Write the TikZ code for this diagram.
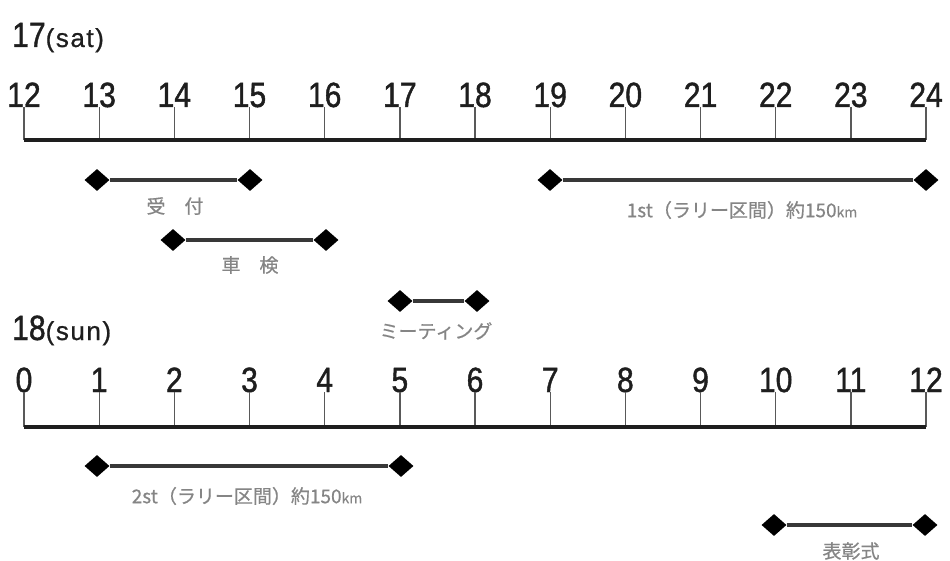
\documentclass[tikz,border=0pt]{standalone}
\usepackage{fontspec}
\setmainfont{Liberation Sans}
\newfontfamily\numfont[FakeStretch=0.86,FakeBold=1.2]{Liberation Sans}
\newfontfamily\dayfont[FakeBold=0.8,LetterSpace=6]{Liberation Sans}
\newfontfamily\jp[FakeBold=0.6]{Noto Sans CJK JP}
\usetikzlibrary{shapes.geometric}
\definecolor{labgray}{HTML}{858585}
\definecolor{ink}{HTML}{1E1E1E}
\begin{document}
\begin{tikzpicture}[x=1pt,y=-1pt,
  num/.style={font=\numfont\fontsize{35}{35}\selectfont, text=ink, inner sep=0pt, anchor=base},
  daylab/.style={inner sep=0pt, anchor=base west, text=ink},
  tickline/.style={line width=1.3pt, draw=black!65},
  axisline/.style={line width=4pt, draw=ink},
  dia/.style={diamond, fill=black, inner sep=0pt, minimum width=25pt, minimum height=22pt},
  spanline/.style={line width=3.3pt, draw=black!78},
  lab/.style={font=\jp\fontsize{19}{19}\selectfont, text=labgray, inner sep=0pt}]
\useasboundingbox (0,0) rectangle (950,561);
% day labels
\node[daylab] (sat) at (12,47) {{\numfont\fontsize{35}{35}\selectfont 17}{\dayfont\fontsize{26}{26}\selectfont (sat)}};
\node[daylab] (sun) at (12,340) {{\numfont\fontsize{35}{35}\selectfont 18}{\dayfont\fontsize{26}{26}\selectfont (sun)}};
% top axis 12..24
\foreach \i in {12,...,24}{
  \node[num] (n\i) at ({24+75.17*(\i-12)},107) {\i};
  \coordinate (a\i) at ({24+75.17*(\i-12)},140);
  \draw[tickline] (n\i.base) -- (a\i);
}
\draw[axisline] (a12) -- (a24);
% bottom axis 0..12
\foreach \i in {0,...,12}{
  \node[num] (m\i) at ({24+75.17*\i},392) {\i};
  \coordinate (b\i) at ({24+75.17*\i},427);
  \draw[tickline] (m\i.base) -- (b\i);
}
\draw[axisline] (b0) -- (b12);
% spans
\node[dia] (uk1) at (97,180) {};
\node[dia] (uk2) at (250,180) {};
\draw[spanline] (uk1) -- (uk2);
\node[lab] (uklab) at (175,206) {受\hspace{1em}付};

\node[dia] (sk1) at (173,240) {};
\node[dia] (sk2) at (326,240) {};
\draw[spanline] (sk1) -- (sk2);
\node[lab] (sklab) at (250,265) {車\hspace{1em}検};

\node[dia] (mt1) at (400,301) {};
\node[dia] (mt2) at (477,301) {};
\draw[spanline] (mt1) -- (mt2);
\node[lab] (mtlab) at (436,331) {ミーティング};

\node[dia] (r11) at (550,180) {};
\node[dia] (r12) at (926,180) {};
\draw[spanline] (r11) -- (r12);
\node[lab] (r1lab) at (742,210) {1st（ラリー区間）約150{\fontsize{14}{14}\selectfont km}};

\node[dia] (r21) at (97,466) {};
\node[dia] (r22) at (401,466) {};
\draw[spanline] (r21) -- (r22);
\node[lab] (r2lab) at (247,496) {2st（ラリー区間）約150{\fontsize{14}{14}\selectfont km}};

\node[dia] (hs1) at (774,525) {};
\node[dia] (hs2) at (925,525) {};
\draw[spanline] (hs1) -- (hs2);
\node[lab] (hslab) at (851,551) {表彰式};
\end{tikzpicture}
\end{document}
